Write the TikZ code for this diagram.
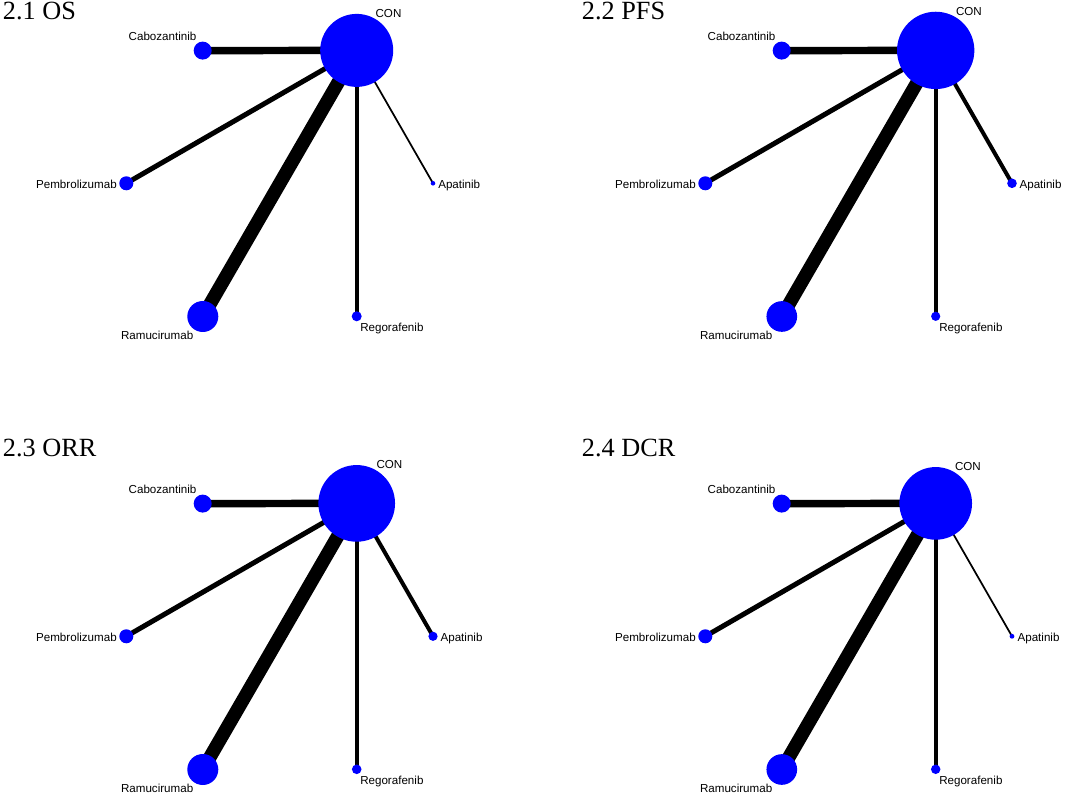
\documentclass[tikz,border=0pt]{standalone}
\usepackage{fontspec}
\setmainfont{Liberation Serif}
\newfontfamily\labfont{Liberation Sans}
\usetikzlibrary{calc,backgrounds}
\definecolor{netblue}{RGB}{0,0,255}
\tikzset{
  nd/.style={circle, fill=netblue, draw=none, inner sep=0pt, minimum size=#1},
  edg/.style={line width=#1, draw=black},
  lab/.style={font=\labfont\fontsize{8.7}{10}\selectfont, inner sep=0pt, text=black},
  ttl/.style={font=\fontsize{19.7}{22}\selectfont, inner sep=0pt, anchor=base west, text=black}
}
\begin{document}
\begin{tikzpicture}[x=0.75pt,y=-0.75pt]
\useasboundingbox (0,0) rectangle (1065,798);
% ---------- Panel 2.1 OS ----------
\node[ttl] (t1) at (2.7,19.3) {2.1 OS};
\begin{scope}
\node[nd=54.75pt] (a0) at (356.7,50.4) {};
\node[nd=13.5pt] (a1) at (202.7,50.6) {};
\node[nd=10.5pt] (a2) at (126.3,183.3) {};
\node[nd=3.45pt] (a3) at (433,183.3) {};
\node[nd=7.5pt] (a4) at (356.7,316.3) {};
\node[nd=23.25pt] (a5) at (202.8,316.5) {};
\begin{scope}[on background layer]
\draw[edg=5.6pt] (a0.center) -- (a1.center);
\draw[edg=3.75pt] (a0.center) -- (a2.center);
\draw[edg=1.3pt] (a0.center) -- (a3.center);
\draw[edg=3.3pt] (a0.center) -- (a4.center);
\draw[edg=10.1pt] (a0.center) -- (a5.center);
\end{scope}
\node[lab,anchor=center] (la0) at ($(a0.center)+(31.8,-37)$) {CON};
\node[lab,anchor=base east] (la1) at ($(a1.center)+(-6,-10)$) {Cabozantinib};
\node[lab,anchor=base east] (la2) at ($(a2.center)+(-9.3,5)$) {Pembrolizumab};
\node[lab,anchor=base west] (la3) at ($(a3.center)+(5,5)$) {Apatinib};
\node[lab,anchor=base west] (la4) at ($(a4.center)+(3.3,15.5)$) {Regorafenib};
\node[lab,anchor=base east] (la5) at ($(a5.center)+(-9.3,23.3)$) {Ramucirumab};
\end{scope}
% ---------- Panel 2.2 PFS ----------
\node[ttl] (t2) at (581.7,19.3) {2.2 PFS};
\begin{scope}[shift={(579,0)}]
\node[nd=58pt] (b0) at (356.7,50.4) {};
\node[nd=13.5pt] (b1) at (202.7,50.6) {};
\node[nd=10.5pt] (b2) at (126.3,183.3) {};
\node[nd=7.2pt] (b3) at (433,183.3) {};
\node[nd=6.9pt] (b4) at (356.7,316.3) {};
\node[nd=23pt] (b5) at (202.8,316.5) {};
\begin{scope}[on background layer]
\draw[edg=5.6pt] (b0.center) -- (b1.center);
\draw[edg=3.75pt] (b0.center) -- (b2.center);
\draw[edg=3pt] (b0.center) -- (b3.center);
\draw[edg=3pt] (b0.center) -- (b4.center);
\draw[edg=10.1pt] (b0.center) -- (b5.center);
\end{scope}
\node[lab,anchor=center] (lb0) at ($(b0.center)+(33.2,-39)$) {CON};
\node[lab,anchor=base east] (lb1) at ($(b1.center)+(-6,-10)$) {Cabozantinib};
\node[lab,anchor=base east] (lb2) at ($(b2.center)+(-9.3,5)$) {Pembrolizumab};
\node[lab,anchor=base west] (lb3) at ($(b3.center)+(7.3,5)$) {Apatinib};
\node[lab,anchor=base west] (lb4) at ($(b4.center)+(3.3,15.5)$) {Regorafenib};
\node[lab,anchor=base east] (lb5) at ($(b5.center)+(-9.3,23.3)$) {Ramucirumab};
\end{scope}
% ---------- Panel 2.3 ORR ----------
\node[ttl] (t3) at (2.7,457) {2.3 ORR};
\begin{scope}[shift={(0,453)}]
\node[nd=57.5pt] (c0) at (356.7,50.4) {};
\node[nd=13.5pt] (c1) at (202.7,50.6) {};
\node[nd=10.5pt] (c2) at (126.3,183.3) {};
\node[nd=6.9pt] (c3) at (433,183.3) {};
\node[nd=7.2pt] (c4) at (356.7,316.3) {};
\node[nd=23.25pt] (c5) at (202.8,316.5) {};
\begin{scope}[on background layer]
\draw[edg=5.6pt] (c0.center) -- (c1.center);
\draw[edg=3.75pt] (c0.center) -- (c2.center);
\draw[edg=3pt] (c0.center) -- (c3.center);
\draw[edg=2.7pt] (c0.center) -- (c4.center);
\draw[edg=10.1pt] (c0.center) -- (c5.center);
\end{scope}
\node[lab,anchor=center] (lc0) at ($(c0.center)+(32.7,-39.3)$) {CON};
\node[lab,anchor=base east] (lc1) at ($(c1.center)+(-6,-10)$) {Cabozantinib};
\node[lab,anchor=base east] (lc2) at ($(c2.center)+(-9.3,5)$) {Pembrolizumab};
\node[lab,anchor=base west] (lc3) at ($(c3.center)+(7.3,5)$) {Apatinib};
\node[lab,anchor=base west] (lc4) at ($(c4.center)+(3.3,15.5)$) {Regorafenib};
\node[lab,anchor=base east] (lc5) at ($(c5.center)+(-9.3,23.3)$) {Ramucirumab};
\end{scope}
% ---------- Panel 2.4 DCR ----------
\node[ttl] (t4) at (581.7,457) {2.4 DCR};
\begin{scope}[shift={(579,453)}]
\node[nd=54.5pt] (d0) at (356.7,50.4) {};
\node[nd=13.5pt] (d1) at (202.7,50.6) {};
\node[nd=10.5pt] (d2) at (126.3,183.3) {};
\node[nd=3.6pt] (d3) at (433,183.3) {};
\node[nd=7.1pt] (d4) at (356.7,316.3) {};
\node[nd=23pt] (d5) at (202.8,316.5) {};
\begin{scope}[on background layer]
\draw[edg=5.6pt] (d0.center) -- (d1.center);
\draw[edg=3.75pt] (d0.center) -- (d2.center);
\draw[edg=1.3pt] (d0.center) -- (d3.center);
\draw[edg=3.3pt] (d0.center) -- (d4.center);
\draw[edg=10.1pt] (d0.center) -- (d5.center);
\end{scope}
\node[lab,anchor=center] (ld0) at ($(d0.center)+(32.2,-36.8)$) {CON};
\node[lab,anchor=base east] (ld1) at ($(d1.center)+(-6,-10)$) {Cabozantinib};
\node[lab,anchor=base east] (ld2) at ($(d2.center)+(-9.3,5)$) {Pembrolizumab};
\node[lab,anchor=base west] (ld3) at ($(d3.center)+(5.3,5)$) {Apatinib};
\node[lab,anchor=base west] (ld4) at ($(d4.center)+(3.3,15.5)$) {Regorafenib};
\node[lab,anchor=base east] (ld5) at ($(d5.center)+(-9.3,23.3)$) {Ramucirumab};
\end{scope}
\end{tikzpicture}
\end{document}
